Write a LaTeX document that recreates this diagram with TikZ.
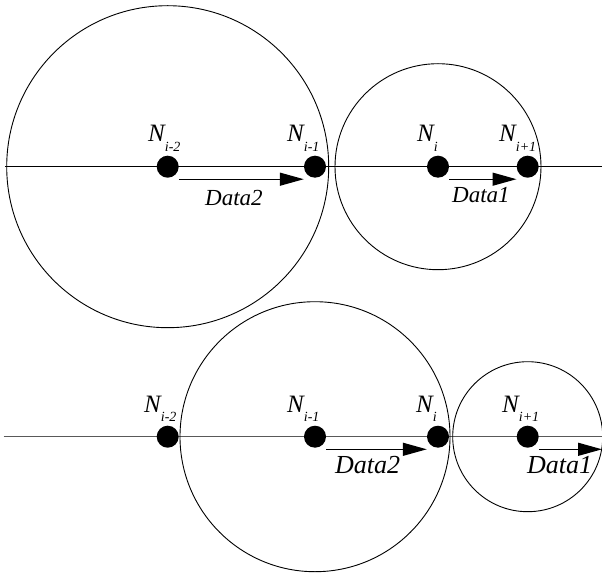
\documentclass[tikz,border=0pt]{standalone}
\usepackage{fontspec}
\setmainfont{Liberation Serif}
\usetikzlibrary{arrows.meta}
\newcommand\lsub[1]{\raisebox{-9.5pt}{\fontsize{14}{14}\selectfont #1}}
\begin{document}
\begin{tikzpicture}[x=1pt,y=-1pt,
  dot/.style={circle,fill=black,inner sep=0pt,minimum size=22pt},
  ring/.style={draw=black,line width=0.9pt},
  axis/.style={line width=0.9pt},
  flow/.style={line width=1.3pt,-{Triangle[length=24pt,width=13pt]}},
  lab/.style={inner sep=0pt,anchor=base west,font=\fontsize{25}{25}\selectfont\itshape},
  dlab/.style={inner sep=0pt,anchor=base west,font=\fontsize{23}{23}\selectfont\itshape},
  dlabb/.style={inner sep=0pt,anchor=base west,font=\fontsize{26}{26}\selectfont\itshape}]
\useasboundingbox (0,0) rectangle (602,577);
% ---------- top ----------
\coordinate (tl) at (5,166.7);
\coordinate (tr) at (602,166.7);
\draw[axis] (tl) -- (tr);
\node[dot] (t1) at (167.7,166.7) {};
\node[dot] (t2) at (315,166.7) {};
\node[dot] (t3) at (438,166.7) {};
\node[dot] (t4) at (527.7,166.7) {};
\draw[ring] (t1.center) circle[radius=161];
\draw[ring] (t3.center) circle[radius=103];
\draw[flow] ([yshift=-12.5pt]t1.east) -- ([yshift=-12.5pt]t2.west);
\draw[flow] ([yshift=-12.5pt]t3.east) -- ([yshift=-12.5pt]t4.west);
\node[lab] (tn1) at (148,142) {N\lsub{i-2}};
\node[lab] (tn2) at (287,142) {N\lsub{i-1}};
\node[lab] (tn3) at (417,142) {N\lsub{i}};
\node[lab] (tn4) at (499,142) {N\lsub{i+1}};
\node[dlab] (td2) at (205,206) {Data2};
\node[dlab] (td1) at (452,203) {Data1};
% ---------- bottom ----------
\coordinate (bl) at (3.5,436.7);
\coordinate (br) at (602,436.7);
\draw[line width=1.2pt,draw=black!65] (bl) -- (br);
\node[dot] (b1) at (167.7,436.7) {};
\node[dot] (b2) at (315,436.7) {};
\node[dot] (b3) at (438,436.7) {};
\node[dot] (b4) at (527.7,436.7) {};
\draw[ring] (b2.center) circle[radius=135];
\draw[ring] (b4.center) circle[radius=75];
\coordinate (bend) at (602,449.3);
\draw[flow] ([yshift=-12.6pt]b2.east) -- ([yshift=-12.6pt]b3.west);
\draw[flow] ([yshift=-12.6pt]b4.east) -- (bend);
\node[lab] (bn1) at (144,412) {N\lsub{i-2}};
\node[lab] (bn2) at (287,412) {N\lsub{i-1}};
\node[lab] (bn3) at (416,412) {N\lsub{i}};
\node[lab] (bn4) at (502,412) {N\lsub{i+1}};
\node[dlabb] (bd2) at (335,473) {Data2};
\node[dlabb] (bd1) at (527,473) {Data1};
\end{tikzpicture}
\end{document}
